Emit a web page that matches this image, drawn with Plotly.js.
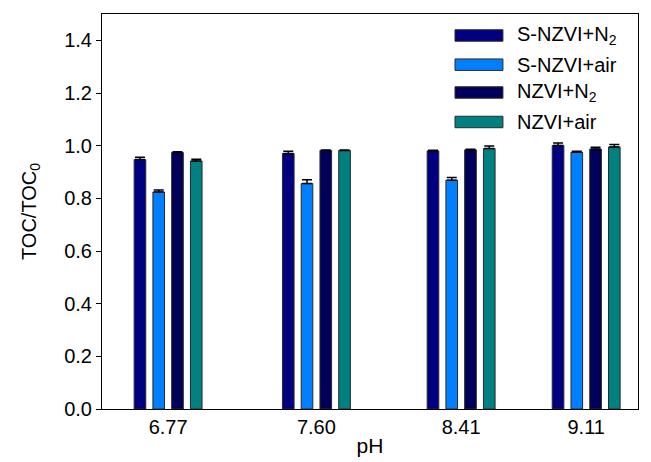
<!DOCTYPE html>
<html>
<head>
<meta charset="utf-8">
<script src="https://cdn.plot.ly/plotly-3.0.1.min.js"></script>
<style>html,body{margin:0;padding:0;background:#fff;}#chart{width:651px;height:462px;}</style>
</head>
<body>
<div id="chart"></div>
<script>
// pH values (numeric x axis)
var pH = [6.77, 7.60, 8.41, 9.11];
var tickLabels = ["6.77", "7.60", "8.41", "9.11"];

var seriesNames = ["S-NZVI+N<sub>2</sub>", "S-NZVI+air", "NZVI+N<sub>2</sub>", "NZVI+air"];

var sNzviN2 = [0.947, 0.970, 0.980, 1.001];
var sNzviN2Err = [0.009, 0.009, 0.003, 0.009];

var sNzviAir = [0.824, 0.856, 0.869, 0.975];
var sNzviAirErr = [0.008, 0.015, 0.010, 0.004];

var nzviN2 = [0.974, 0.982, 0.984, 0.987];
var nzviN2Err = [0.003, 0.002, 0.002, 0.007];

var nzviAir = [0.942, 0.982, 0.989, 0.995];
var nzviAirErr = [0.006, 0.002, 0.010, 0.009];

var colors = ["#000080", "#0080FF", "#00005A", "#008080"];

var values = [sNzviN2, sNzviAir, nzviN2, nzviAir];
var errs = [sNzviN2Err, sNzviAirErr, nzviN2Err, nzviAirErr];

var traces = values.map(function (v, i) {
  return {
    type: "bar",
    name: seriesNames[i],
    x: pH,
    y: v,
    showlegend: false,
    marker: { color: colors[i], line: { color: "#2a2a2a", width: 1 } },
    error_y: {
      type: "data",
      array: errs[i],
      symmetric: false,
      arrayminus: errs[i].map(function () { return 0; }),
      color: "#000",
      thickness: 1.5,
      width: 5
    }
  };
});

var font = "Arial, 'Liberation Sans', sans-serif";

// Legend drawn as swatch rectangles + text (wide swatches like the original)
var legendX0 = 0.6586, legendX1 = 0.748, legendTextX = 0.7705;
var legendY = [0.9456, 0.8717, 0.8013, 0.7266];
var swatchH = 0.0145;
var shapes = [], annotations = [];
seriesNames.forEach(function (name, i) {
  shapes.push({
    type: "rect", xref: "paper", yref: "paper",
    x0: legendX0, x1: legendX1, y0: legendY[i] - swatchH, y1: legendY[i] + swatchH,
    fillcolor: colors[i], line: { color: "#2a2a2a", width: 1 }
  });
  annotations.push({
    xref: "paper", yref: "paper", x: legendTextX, y: legendY[i],
    xanchor: "left", yanchor: "middle", showarrow: false,
    text: name, font: { family: font, size: 20, color: "#000" }
  });
});

var layout = {
  width: 651,
  height: 462,
  margin: { l: 102, r: 13, t: 14, b: 53 },
  paper_bgcolor: "#fff",
  plot_bgcolor: "#fff",
  font: { family: font, size: 20, color: "#000" },
  barmode: "group",
  bargap: 0.4,
  bargroupgap: 0.38,
  showlegend: false,
  shapes: shapes,
  annotations: annotations,
  xaxis: {
    range: [6.4, 9.4],
    tickmode: "array",
    tickvals: pH,
    ticktext: tickLabels,
    ticks: "",
    showgrid: false,
    zeroline: false,
    showline: true,
    linecolor: "#000",
    linewidth: 1,
    mirror: true,
    tickfont: { family: font, size: 20 },
    title: { text: "pH", font: { family: font, size: 21 }, standoff: 1 }
  },
  yaxis: {
    range: [0, 1.5],
    tickmode: "array",
    tickvals: [0, 0.2, 0.4, 0.6, 0.8, 1.0, 1.2, 1.4],
    ticktext: ["0.0", "0.2", "0.4", "0.6", "0.8", "1.0", "1.2", "1.4"],
    ticks: "outside",
    ticklen: 5,
    tickcolor: "#000",
    showgrid: false,
    zeroline: false,
    showline: true,
    linecolor: "#000",
    linewidth: 1,
    mirror: true,
    tickfont: { family: font, size: 20 },
    title: { text: "TOC/TOC<sub>0</sub>", font: { family: font, size: 20 }, standoff: 22 }
  }
};

Plotly.newPlot("chart", traces, layout, { displayModeBar: false, staticPlot: true });
</script>
</body>
</html>
